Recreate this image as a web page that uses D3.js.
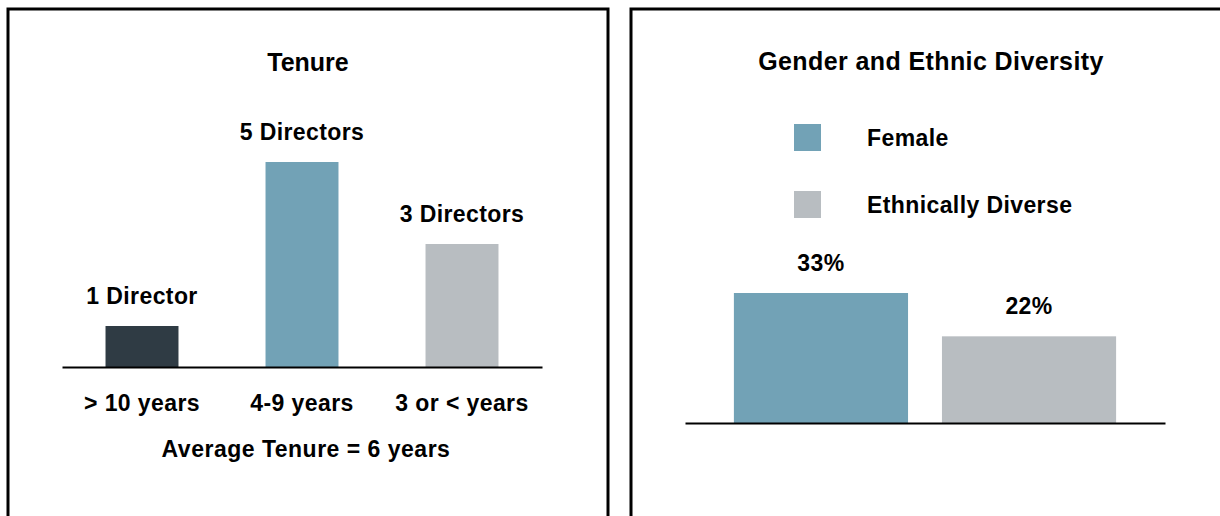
<!DOCTYPE html>
<html>
<head>
<meta charset="utf-8">
<script src="https://cdn.jsdelivr.net/npm/d3@7"></script>
<style>
  body { margin: 0; background: #fff; }
  svg { font-family: "Liberation Sans", Arial, sans-serif; font-weight: bold; }
</style>
</head>
<body>
<script>
// tenure chart data
var tenureCats = ["> 10 years", "4-9 years", "3 or < years"];
var tenureVals = [1, 5, 3];
var tenureLabels = ["1 Director", "5 Directors", "3 Directors"];
var tenureColors = ["#2f3b44", "#72a2b6", "#b8bdc1"];

// diversity chart data
var divCats = ["Female", "Ethnically Diverse"];
var divVals = [33, 22];
var divColors = ["#72a2b6", "#b8bdc1"];

var svg = d3.select("body").append("svg")
    .attr("width", 1220)
    .attr("height", 516);

// panel frames
svg.append("rect")
    .attr("x", 8).attr("y", 9)
    .attr("width", 600).attr("height", 540)
    .attr("fill", "none").attr("stroke", "#000").attr("stroke-width", 3);
svg.append("rect")
    .attr("x", 631).attr("y", 9)
    .attr("width", 620).attr("height", 540)
    .attr("fill", "none").attr("stroke", "#000").attr("stroke-width", 3);

// ---- Tenure ----
var left = svg.append("g");

var x1 = d3.scaleBand()
    .domain(tenureCats)
    .range([62, 542])
    .paddingInner(0.544)
    .paddingOuter(0.272);

var y1 = d3.scaleLinear()
    .domain([0, 5])
    .range([367, 162]);

left.append("text")
    .attr("x", 308).attr("y", 71)
    .attr("text-anchor", "middle")
    .attr("font-size", 25)
    .text("Tenure");

left.selectAll(".bar")
    .data(tenureVals)
    .enter()
    .append("rect")
    .attr("class", "bar")
    .attr("x", function(d, i) { return x1(tenureCats[i]); })
    .attr("y", function(d) { return y1(d); })
    .attr("width", x1.bandwidth())
    .attr("height", function(d) { return y1(0) - y1(d); })
    .attr("fill", function(d, i) { return tenureColors[i]; });

left.selectAll(".lbl")
    .data(tenureVals)
    .enter()
    .append("text")
    .attr("class", "lbl")
    .attr("x", function(d, i) { return x1(tenureCats[i]) + x1.bandwidth() / 2; })
    .attr("y", function(d) { return y1(d) - 22; })
    .attr("text-anchor", "middle")
    .attr("font-size", 23)
    .attr("letter-spacing", 0.4)
    .text(function(d, i) { return tenureLabels[i]; });

var ax1 = left.append("g")
    .attr("transform", "translate(0," + y1(0) + ")")
    .call(d3.axisBottom(x1).tickSize(0).tickPadding(28));
ax1.select(".domain").attr("stroke", "#000").attr("stroke-width", 2);
ax1.selectAll("text")
    .attr("font-size", 23)
    .attr("letter-spacing", 0.4)
    .attr("font-family", "Liberation Sans, Arial, sans-serif")
    .attr("font-weight", "bold")
    .attr("fill", "#000");

left.append("text")
    .attr("x", 306).attr("y", 457)
    .attr("text-anchor", "middle")
    .attr("font-size", 23)
    .attr("letter-spacing", 0.5)
    .text("Average Tenure = 6 years");

// ---- Gender and Ethnic Diversity ----
var right = svg.append("g");

var x2 = d3.scaleBand()
    .domain(divCats)
    .range([685, 1165])
    .paddingInner(0.163)
    .paddingOuter(0.235);

var y2 = d3.scaleLinear()
    .domain([0, 33])
    .range([423, 293]);

right.append("text")
    .attr("x", 931).attr("y", 70)
    .attr("text-anchor", "middle")
    .attr("font-size", 25)
    .attr("letter-spacing", 0.4)
    .text("Gender and Ethnic Diversity");

var leg = right.selectAll(".leg")
    .data(divCats)
    .enter()
    .append("g")
    .attr("class", "leg")
    .attr("transform", function(d, i) { return "translate(794," + (124 + i * 67) + ")"; });
leg.append("rect")
    .attr("width", 27).attr("height", 27)
    .attr("fill", function(d, i) { return divColors[i]; });
leg.append("text")
    .attr("x", 73).attr("y", 22)
    .attr("font-size", 23)
    .attr("letter-spacing", 0.4)
    .text(function(d) { return d; });

right.selectAll(".bar")
    .data(divVals)
    .enter()
    .append("rect")
    .attr("class", "bar")
    .attr("x", function(d, i) { return x2(divCats[i]); })
    .attr("y", function(d) { return y2(d); })
    .attr("width", x2.bandwidth())
    .attr("height", function(d) { return y2(0) - y2(d); })
    .attr("fill", function(d, i) { return divColors[i]; });

right.selectAll(".lbl")
    .data(divVals)
    .enter()
    .append("text")
    .attr("class", "lbl")
    .attr("x", function(d, i) { return x2(divCats[i]) + x2.bandwidth() / 2; })
    .attr("y", function(d) { return y2(d) - 22; })
    .attr("text-anchor", "middle")
    .attr("font-size", 23)
    .attr("letter-spacing", 0.4)
    .text(function(d) { return d + "%"; });

var ax2 = right.append("g")
    .attr("transform", "translate(0," + y2(0) + ")")
    .call(d3.axisBottom(x2).tickSize(0).tickFormat(""));
ax2.select(".domain").attr("stroke", "#000").attr("stroke-width", 2);
</script>
</body>
</html>
